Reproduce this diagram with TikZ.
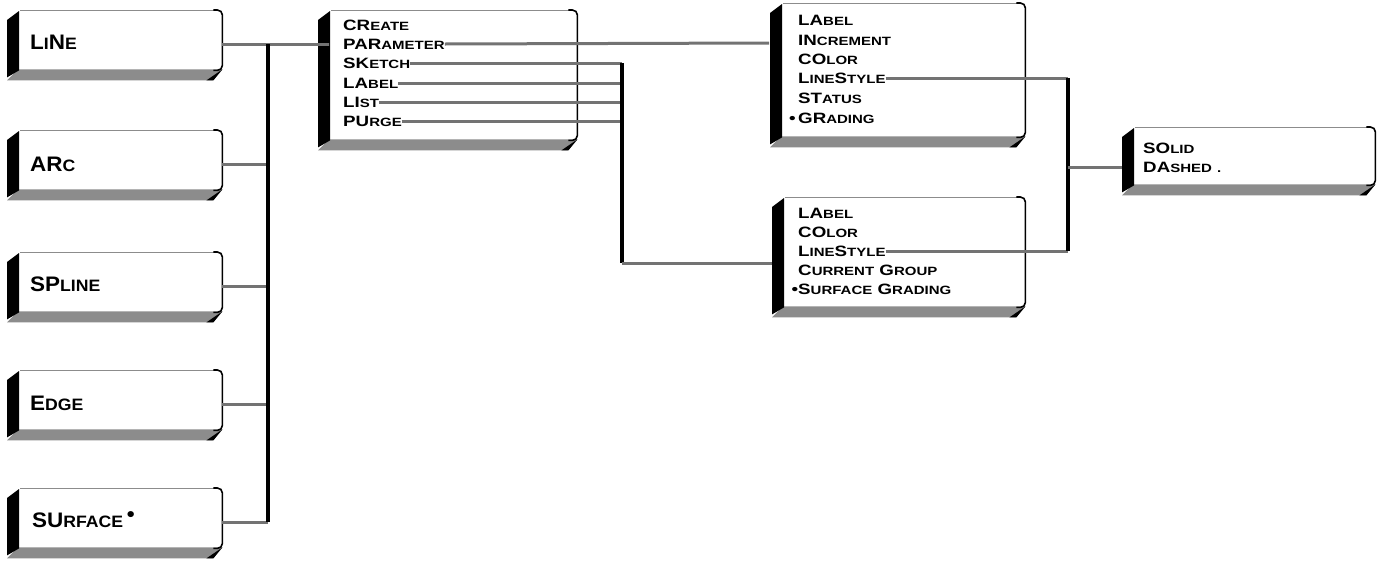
\documentclass[tikz,border=0pt]{standalone}
\usepackage{fontspec}
\setmainfont{Liberation Sans}
\newfontfamily\cardfont{Liberation Sans}[FakeStretch=1.25]
\newfontfamily\bigcardfont{Liberation Sans}[FakeStretch=1.07]
\def\smsize{12}
\newcommand\sm[1]{{\fontsize{\smsize}{\smsize}\selectfont #1}}
\tikzset{
  front/.style={fill=white, rounded corners=5pt, inner sep=0pt, draw=none},
  halftone/.style={fill=black!45},
  edgegray/.style={draw=black!45, line width=1pt},
  edgeblack/.style={draw=black, line width=1.6pt, rounded corners=5pt},
  item/.style={anchor=west, inner sep=0pt, text height=10.5pt, text depth=0pt,
    font=\cardfont\bfseries\fontsize{15}{15}\selectfont\def\smsize{12}},
  bigitem/.style={anchor=west, inner sep=0pt, text height=14.5pt, text depth=0pt,
    font=\bigcardfont\bfseries\fontsize{21}{21}\selectfont\def\smsize{16.5}},
  conn/.style={draw=black!55, line width=3pt},
  bus/.style={draw=black, line width=3.5pt},
}
% #1 name, #2 x0 (left face), #3 y0 (top), #4 x1 (right), #5 y1 (bottom of front face)
\newcommand\card[5]{%
  \pgfmathsetmacro\cw{#4-#2-11}\pgfmathsetmacro\ch{#5-#3}%
  \node[front, minimum width=\cw pt, minimum height=\ch pt, anchor=north west] (#1) at (#2+11,#3) {};
  \fill[halftone] ([xshift=-11pt,yshift=-10pt]#1.south west) -- ([yshift=1pt]#1.south west)
     -- ([yshift=1pt]#1.south east) -- ([xshift=-10pt,yshift=-10pt]#1.south east) -- cycle;
  \fill[black] ([xshift=-11pt,yshift=-10pt]#1.north west) -- ([xshift=1pt,yshift=-1pt]#1.north west)
     -- ([xshift=1pt]#1.south west) -- ([xshift=-11pt,yshift=-7pt]#1.south west) -- cycle;
  \fill[black] ([xshift=-16pt,yshift=-10pt]#1.south east) -- ([yshift=1pt]#1.south east)
     -- ([xshift=-9pt,yshift=-10pt]#1.south east) -- cycle;
  \draw[edgegray] ([xshift=2pt]#1.north west) -- ([xshift=-6pt]#1.north east);
  \draw[edgeblack] ([xshift=-9pt]#1.north east) -- (#1.north east) -- (#1.south east) -- ([xshift=-9pt]#1.south east);
}
\begin{document}
\begin{tikzpicture}[x=1pt,y=-1pt]
\useasboundingbox (0,0) rectangle (1388,560);

% ---------- left column ----------
\card{cline}{7}{10}{222}{70}
\card{carc}{7}{130}{222}{190}
\card{cspline}{7}{252}{222}{312}
\card{cedge}{7}{370}{222}{430}
\card{csurf}{7}{488}{222}{548}
\node[bigitem] (tline) at (30,42) {L\sm{I}N\sm{E}};
\node[bigitem] (tarc) at (30,164) {AR\sm{C}};
\node[bigitem] (tspline) at (30,284) {SP\sm{LINE}};
\node[bigitem] (tedge) at (30,403) {E\sm{DGE}};
\node[bigitem] (tsurf) at (32,520) {SU\sm{RFACE}\,\raisebox{6pt}{\textbullet}};

% ---------- middle card ----------
\card{cmid}{318}{10}{577}{140}
\node[item] (create) at (343,25) {CR\sm{EATE}};
\node[item] (param) at (343,44) {PAR\sm{AMETER}};
\node[item] (sketch) at (343,63) {SK\sm{ETCH}};
\node[item] (label) at (343,83) {LA\sm{BEL}};
\node[item] (list) at (343,102) {LI\sm{ST}};
\node[item] (purge) at (343,121) {PU\sm{RGE}};

% ---------- top right card ----------
\card{cpar}{770}{3}{1025}{137}
\node[item] (plabel) at (798,20) {LA\sm{BEL}};
\node[item] (pinc) at (798,40) {IN\sm{CREMENT}};
\node[item] (pcolor) at (798,59) {CO\sm{LOR}};
\node[item] (pstyle) at (798,78) {L\sm{INE}S\sm{TYLE}};
\node[item] (pstat) at (798,98) {ST\sm{ATUS}};
\node[item] (pgrad) at (798,118) {\llap{\textbullet\,}GR\sm{ADING}};

% ---------- second right card ----------
\card{csk}{772}{197}{1025}{307}
\node[item] (slabel) at (798,213) {LA\sm{BEL}};
\node[item] (scolor) at (798,232) {CO\sm{LOR}};
\node[item] (sstyle) at (798,251) {L\sm{INE}S\sm{TYLE}};
\node[item] (sgroup) at (798,270) {C\sm{URRENT} G\sm{ROUP}};
\node[item] (sgrad) at (798,289) {\llap{\textbullet}S\sm{URFACE} G\sm{RADING}};

% ---------- line style card ----------
\card{cls}{1122}{127}{1375}{185}
\node[item] (solid) at (1143,148) {SO\sm{LID}};
\node[item] (dashed) at (1143,167) {DA\sm{SHED} \sm{.}};

% ---------- bus coordinates ----------
\coordinate (lbtop) at (268,44);
\coordinate (lbbot) at (268,522);
\coordinate (mbtop) at (622,63);
\coordinate (mbbot) at (622,263);
\coordinate (rbtop) at (1068,78);
\coordinate (rbbot) at (1068,251);

% ---------- connectors ----------
\draw[conn] (cline.east |- 0,44) -- (cmid.west |- 0,44) -- ++(-11,0);
\draw[conn] (carc.east |- 0,164) -- (268,164);
\draw[conn] (cspline.east |- 0,286) -- (268,286);
\draw[conn] (cedge.east |- 0,404) -- (268,404);
\draw[conn] (csurf.east |- 0,522) -- (lbbot);
\draw[bus] (lbtop) -- (lbbot);

\draw[conn] (param.east) -- ([xshift=-12pt]cpar.west |- 0,43);
\draw[conn] (sketch.east) -- (mbtop);
\draw[conn] (label.east) -- (622,83);
\draw[conn] (list.east) -- (622,102);
\draw[conn] (purge.east) -- (622,121);
\draw[bus] (mbtop) -- (mbbot);
\draw[conn] (mbbot) -- ([xshift=-11pt]csk.west |- 0,263);

\draw[conn] (pstyle.east) -- (rbtop);
\draw[conn] (sstyle.east) -- (rbbot);
\draw[bus] (rbtop) -- (rbbot);
\draw[conn] (1068,167) -- ([xshift=-11pt]cls.west |- 0,167);
\end{tikzpicture}
\end{document}
